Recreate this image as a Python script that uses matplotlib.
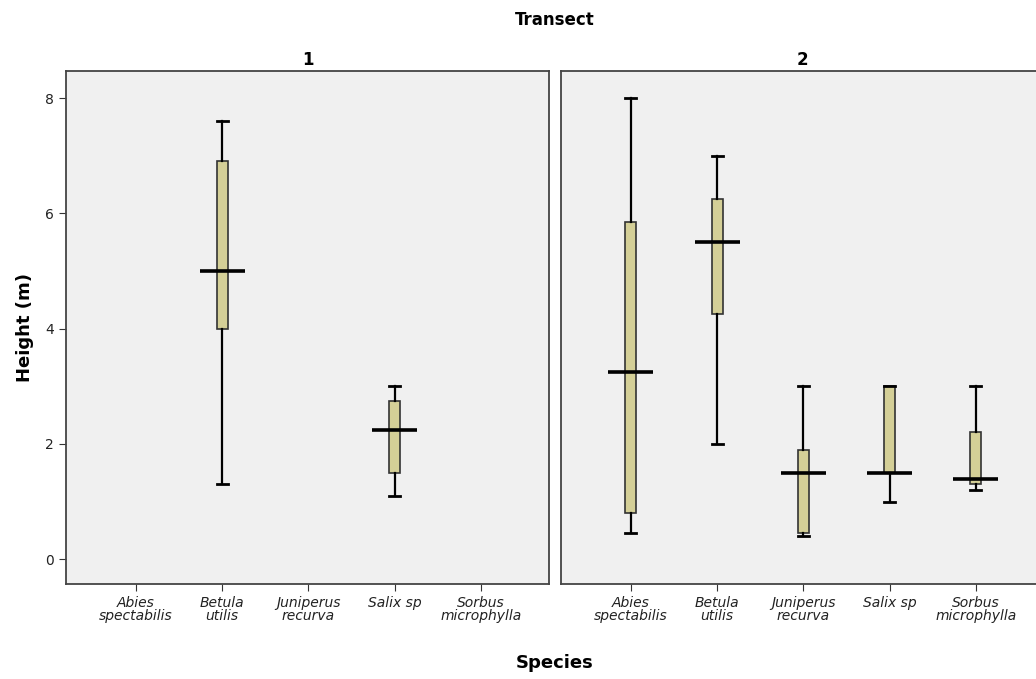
import matplotlib
matplotlib.use("Agg")
import matplotlib.pyplot as plt

plt.rcParams['font.family'] = ['DejaVu Sans']

species = ["Abies\nspectabilis", "Betula\nutilis", "Juniperus\nrecurva", "Salix sp", "Sorbus\nmicrophylla"]
transects = ["1", "2"]

# per transect: whisker low, Q1, median, Q3, whisker high (None = no data)
t1_stats = [None,
            (1.3, 4.0, 5.0, 6.9, 7.6),
            None,
            (1.1, 1.5, 2.25, 2.75, 3.0),
            None]
t2_stats = [(0.45, 0.8, 3.25, 5.85, 8.0),
            (2.0, 4.25, 5.5, 6.25, 7.0),
            (0.4, 0.45, 1.5, 1.9, 3.0),
            (1.0, 1.5, 1.5, 3.0, 3.0),
            (1.2, 1.3, 1.4, 2.2, 3.0)]
yticks = [0, 2, 4, 6, 8]

box_color = "#d4cf97"
bg = "#f0f0f0"
edge = "#333333"

fig = plt.figure(figsize=(10.36, 6.79), dpi=100)
ax1 = fig.add_axes([66 / 1036, 95 / 679, 483 / 1036, 513 / 679])
ax2 = fig.add_axes([561 / 1036, 95 / 679, 483 / 1036, 513 / 679])

for ax, stats_list, name in [(ax1, t1_stats, transects[0]), (ax2, t2_stats, transects[1])]:
    ax.set_facecolor(bg)
    pos = [i for i, s in enumerate(stats_list) if s is not None]
    stats = [dict(whislo=s[0], q1=s[1], med=s[2], q3=s[3], whishi=s[4], fliers=[])
             for s in stats_list if s is not None]
    ax.bxp(stats, positions=pos, widths=0.13, capwidths=0.13, patch_artist=True,
           showfliers=False, manage_ticks=False,
           boxprops=dict(facecolor=box_color, edgecolor=edge, linewidth=1.2),
           whiskerprops=dict(color="black", linewidth=1.6),
           capprops=dict(color="black", linewidth=2),
           medianprops=dict(linewidth=0))
    meds = [s[2] for s in stats_list if s is not None]
    ax.hlines(meds, [p - 0.26 for p in pos], [p + 0.26 for p in pos], color="black", linewidth=2.6, zorder=5)
    ax.set_xlim(-0.81, 4.79)
    ax.set_ylim(-0.43, 8.47)
    ax.set_xticks(range(len(species)))
    ax.set_xticklabels(species, fontstyle="italic", fontsize=10, color="#222222", linespacing=0.95)
    ax.tick_params(axis="x", length=5, color="#333333")
    for sp in ax.spines.values():
        sp.set_color("#444444")
        sp.set_linewidth(1.3)
    ax.set_title(name, fontsize=12, fontweight="bold", pad=4)

ax1.set_yticks(yticks)
ax1.tick_params(axis="y", length=5, labelsize=10, color="#333333", labelcolor="#222222")
ax1.set_ylabel("Height (m)", fontsize=13, fontweight="bold", labelpad=8)
ax2.set_yticks([])

fig.text(555 / 1036, 1 - 20 / 679, "Transect", ha="center", va="center", fontsize=12, fontweight="bold")
fig.text(555 / 1036, 1 - 663 / 679, "Species", ha="center", va="center", fontsize=13, fontweight="bold")

fig.savefig("out.png", dpi=100, facecolor="white")
